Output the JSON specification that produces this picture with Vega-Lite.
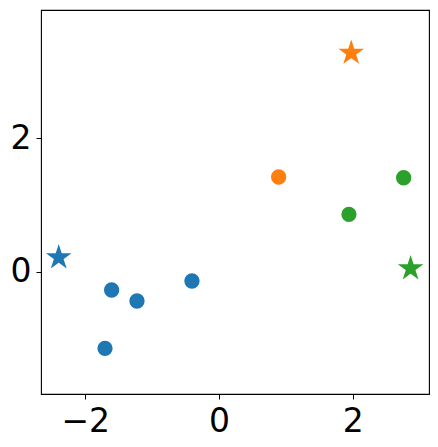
{
  "$schema": "https://vega.github.io/schema/vega-lite/v6.json",
  "width": 388,
  "height": 384,
  "autosize": "none",
  "padding": {"left": 41, "top": 10, "right": 9, "bottom": 53},
  "background": "white",
  "config": {
    "view": {"stroke": "black", "strokeWidth": 1.1},
    "axis": {
      "grid": false,
      "domain": false,
      "ticks": true,
      "tickColor": "black",
      "tickSize": 5,
      "tickWidth": 1,
      "labelFont": "DejaVu Sans",
      "labelFontSize": 33,
      "labelColor": "black",
      "title": null
    }
  },
  "data": {
    "values": [
      {"x": -2.396, "y": 0.21, "group": "A", "marker": "star"},
      {"x": -1.605, "y": -0.277, "group": "A", "marker": "circle"},
      {"x": -1.226, "y": -0.442, "group": "A", "marker": "circle"},
      {"x": -0.404, "y": -0.142, "group": "A", "marker": "circle"},
      {"x": -1.704, "y": -1.151, "group": "A", "marker": "circle"},
      {"x": 1.977, "y": 3.275, "group": "B", "marker": "star"},
      {"x": 0.892, "y": 1.416, "group": "B", "marker": "circle"},
      {"x": 2.761, "y": 1.405, "group": "C", "marker": "circle"},
      {"x": 1.943, "y": 0.857, "group": "C", "marker": "circle"},
      {"x": 2.865, "y": 0.045, "group": "C", "marker": "star"}
    ]
  },
  "mark": {"type": "point", "filled": true, "opacity": 1, "strokeWidth": 2, "strokeOpacity": 1, "strokeJoin": "miter", "strokeMiterLimit": 10},
  "encoding": {
    "x": {
      "field": "x",
      "type": "quantitative",
      "scale": {"domain": [-2.661, 3.14], "nice": false, "zero": false},
      "axis": {"values": [-2, 0, 2], "labelPadding": 6, "labelFlush": false, "labelOverlap": false}
    },
    "y": {
      "field": "y",
      "type": "quantitative",
      "scale": {"domain": [-1.835, 3.918], "nice": false, "zero": false},
      "axis": {"values": [0, 2], "labelPadding": 5, "labelFlush": false, "labelOverlap": false}
    },
    "color": {
      "field": "group",
      "type": "nominal",
      "scale": {"domain": ["A", "B", "C"], "range": ["#1f77b4", "#ff7f0e", "#2ca02c"]},
      "legend": null
    },
    "stroke": {
      "field": "group",
      "type": "nominal",
      "scale": {"domain": ["A", "B", "C"], "range": ["#1f77b4", "#ff7f0e", "#2ca02c"]},
      "legend": null
    },
    "shape": {
      "field": "marker",
      "type": "nominal",
      "scale": {
        "domain": ["circle", "star"],
        "range": ["circle", "M0,-1L0.2245,-0.309L0.9511,-0.309L0.3633,0.118L0.5878,0.809L0,0.382L-0.5878,0.809L-0.3633,0.118L-0.9511,-0.309L-0.2245,-0.309Z"]
      },
      "legend": null
    },
    "size": {
      "field": "marker",
      "type": "nominal",
      "scale": {"domain": ["circle", "star"], "range": [177, 420]},
      "legend": null
    }
  }
}
